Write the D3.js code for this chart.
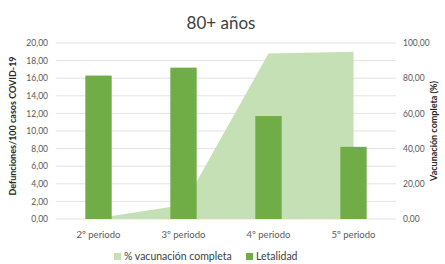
<!DOCTYPE html>
<html>
<head>
<meta charset="utf-8">
<script src="https://cdn.jsdelivr.net/npm/d3@7"></script>
<style>
  body { margin: 0; background: #fff; }
  svg { font-family: Lato, "Open Sans", sans-serif; }
</style>
</head>
<body>
<div id="chart"></div>
<script>
// Datos
const periodos = ["2º periodo", "3º periodo", "4º periodo", "5º periodo"];
const letalidad = [16.3, 17.2, 11.7, 8.2];
const vacunacion = [0.5, 8, 94, 95];
const ticksIzq = [0, 2, 4, 6, 8, 10, 12, 14, 16, 18, 20];
const ticksDer = [0, 20, 40, 60, 80, 100];

const W = 445, H = 264;
const margin = {top: 43, right: 49, bottom: 45, left: 56};

const svg = d3.select('#chart')
    .append('svg')
    .attr("width", W)
    .attr("height", H);

const x = d3.scaleBand()
    .domain(periodos)
    .range([margin.left, W - margin.right]);

const yL = d3.scaleLinear().domain([0, 20]).range([H - margin.bottom, margin.top]);
const yR = d3.scaleLinear().domain([0, 100]).range([H - margin.bottom, margin.top]);

const fmt = v => v.toFixed(2).replace(".", ",");
const centro = d => x(d) + x.bandwidth() / 2;

// Título
svg.append("text")
    .attr("x", 221).attr("y", 29)
    .attr("text-anchor", "middle")
    .attr("font-size", 17)
    .attr("fill", "#404040")
    .text("80+ años");

// Rejilla
svg.append("g")
    .selectAll("line")
    .data(ticksIzq)
    .join("line")
    .attr("x1", margin.left).attr("x2", W - margin.right)
    .attr("y1", d => yL(d)).attr("y2", d => yL(d))
    .attr("stroke", "#e3e3e3")
    .attr("stroke-width", 1);

// Área vacunación
const area = d3.area()
    .x((d, i) => centro(periodos[i]))
    .y0(yR(0))
    .y1(d => yR(d));

svg.append("path")
    .datum(vacunacion)
    .attr("d", area)
    .attr("fill", "#c5e0b4");

// Barras letalidad
const bw = x.bandwidth() * 0.31;
svg.append("g")
    .selectAll("rect")
    .data(letalidad)
    .join("rect")
    .attr("x", (d, i) => centro(periodos[i]) - bw / 2)
    .attr("width", bw)
    .attr("y", d => yL(d))
    .attr("height", d => yL(0) - yL(d))
    .attr("fill", "#70ad47");

// Ejes
const axisL = d3.axisLeft(yL).tickValues(ticksIzq).tickFormat(fmt).tickSize(0).tickPadding(8);
svg.append("g")
    .attr("transform", `translate(${margin.left},0)`)
    .call(axisL)
    .call(g => g.select(".domain").remove())
    .selectAll("text")
    .attr("font-size", 8.5)
    .attr("fill", "#595959")
    .attr("font-family", "Lato, sans-serif");

const axisR = d3.axisRight(yR).tickValues(ticksDer).tickFormat(fmt).tickSize(0).tickPadding(7);
svg.append("g")
    .attr("transform", `translate(${W - margin.right},0)`)
    .call(axisR)
    .call(g => g.select(".domain").remove())
    .selectAll("text")
    .attr("font-size", 8.5)
    .attr("fill", "#595959")
    .attr("font-family", "Lato, sans-serif");

const axisX = d3.axisBottom(x).tickSize(0).tickPadding(12);
svg.append("g")
    .attr("transform", `translate(0,${yL(0)})`)
    .call(axisX)
    .call(g => g.select(".domain").remove())
    .selectAll("text")
    .attr("font-size", 9.5)
    .attr("fill", "#595959")
    .attr("font-family", "Lato, sans-serif");

// Títulos de ejes
svg.append("text")
    .attr("transform", "translate(16,126) rotate(-90)")
    .attr("text-anchor", "middle")
    .attr("font-size", 9)
    .attr("font-weight", "bold")
    .attr("fill", "#262626")
    .text("Defunciones/100 casos COVID-19");

svg.append("text")
    .attr("transform", "translate(437,131) rotate(-90)")
    .attr("text-anchor", "middle")
    .attr("font-size", 9)
    .attr("font-weight", "bold")
    .attr("fill", "#262626")
    .text("Vacunación completa (%)");

// Leyenda
const leyenda = [
    {nombre: "% vacunación completa", color: "#c5e0b4", x: 114},
    {nombre: "Letalidad", color: "#70ad47", x: 246}
];
const lg = svg.append("g").selectAll("g")
    .data(leyenda)
    .join("g")
    .attr("transform", d => `translate(${d.x},260)`);
lg.append("rect")
    .attr("x", 0).attr("y", -7)
    .attr("width", 7).attr("height", 7)
    .attr("fill", d => d.color);
lg.append("text")
    .attr("x", 10).attr("y", 0)
    .attr("font-size", 10.5)
    .attr("fill", "#404040")
    .text(d => d.nombre);
</script>
</body>
</html>
